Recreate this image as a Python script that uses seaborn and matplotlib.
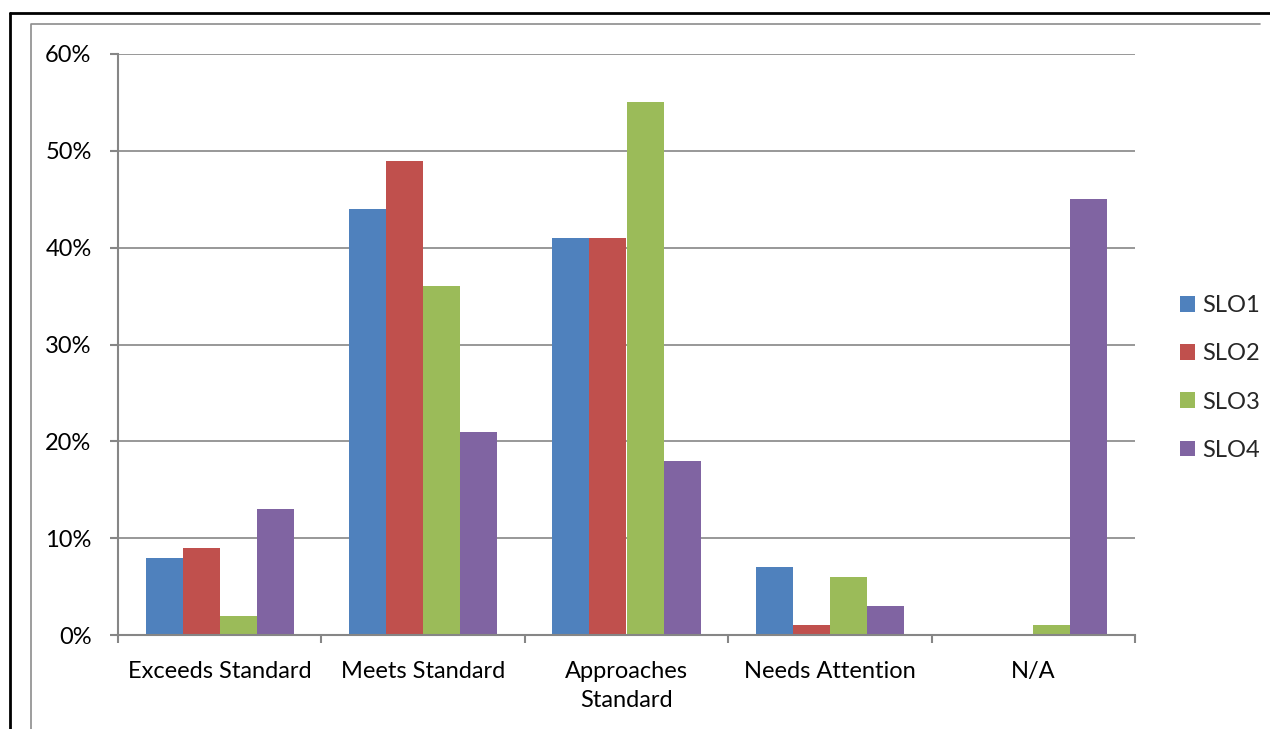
import matplotlib
matplotlib.use("Agg")
import matplotlib.pyplot as plt
from matplotlib.lines import Line2D
from matplotlib.patches import Patch
from matplotlib.ticker import PercentFormatter, FixedLocator
import seaborn as sns
import pandas as pd

categories = ["Exceeds Standard", "Meets Standard", "Approaches\nStandard",
              "Needs Attention", "N/A"]
series = ["SLO1", "SLO2", "SLO3", "SLO4"]
slo1 = [8, 44, 41, 7, 0]
slo2 = [9, 49, 41, 1, 0]
slo3 = [2, 36, 55, 6, 1]
slo4 = [13, 21, 18, 3, 45]
colors = ["#4F81BD", "#C0504D", "#9BBB59", "#8064A2"]
y_ticks = [0, 10, 20, 30, 40, 50, 60]

rows = []
for name, vals in zip(series, [slo1, slo2, slo3, slo4]):
    for cat, v in zip(categories, vals):
        rows.append({"category": cat, "series": name, "value": v})
df = pd.DataFrame(rows)

sns.set_theme(style="white")
plt.rcParams["font.family"] = ["Lato", "DejaVu Sans"]
FS = 17

W, H = 1270, 729
fig = plt.figure(figsize=(12.7, 7.29), dpi=100)
ax = fig.add_axes([118 / W, 1 - 635 / H, (1135 - 118) / W, (635 - 54) / H])

sns.barplot(data=df, x="category", y="value", hue="series", order=categories,
            hue_order=series, palette=colors, width=0.728, gap=0,
            saturation=1, linewidth=0, ax=ax, legend=False)

grid = "#868686"
ax.set_xlim(-0.5, len(categories) - 0.5)
ax.set_ylim(0, 60)
ax.yaxis.set_major_locator(FixedLocator(y_ticks))
ax.yaxis.set_major_formatter(PercentFormatter(decimals=0))
ax.grid(axis="y", color=grid, linewidth=1.2)
ax.set_axisbelow(True)
for s in ["top", "right"]:
    ax.spines[s].set_visible(False)
for s in ["left", "bottom"]:
    ax.spines[s].set_color(grid)
    ax.spines[s].set_linewidth(1.5)

ax.set_xlabel("")
ax.set_ylabel("")
ax.set_xticks(range(len(categories)))
ax.set_xticklabels(categories, fontsize=FS, color="#000000", linespacing=1.45)
ax.set_xticks([i - 0.5 for i in range(len(categories) + 1)], minor=True)
ax.tick_params(axis="x", which="major", length=0, pad=19)
ax.tick_params(axis="x", which="minor", length=6, width=1.5, color=grid,
               direction="out", bottom=True)
ax.tick_params(axis="y", length=6, width=1.5, color=grid, direction="out",
               left=True, pad=13, labelsize=FS, labelcolor="#000000")

handles = [Patch(facecolor=c, edgecolor="none") for c in colors]
fig.legend(handles, series, loc="center left",
           bbox_to_anchor=(1168 / W, 1 - 378 / H), frameon=False,
           fontsize=FS, handlelength=0.65, handleheight=0.65,
           handletextpad=0.3, labelspacing=1.15, borderpad=0)

# outer frame lines
fig.add_artist(Line2D([10 / W, 10 / W], [0, 1 - 13 / H], color="black",
                      linewidth=2, transform=fig.transFigure))
fig.add_artist(Line2D([10 / W, 1], [1 - 13 / H, 1 - 13 / H], color="black",
                      linewidth=2, transform=fig.transFigure))
# inner chart border
fig.add_artist(Line2D([31 / W, 31 / W, 1260 / W], [0, 1 - 24 / H, 1 - 24 / H],
                      color="#8C8C8C", linewidth=1.2, transform=fig.transFigure))

fig.savefig("out.png", dpi=100, facecolor="white")
